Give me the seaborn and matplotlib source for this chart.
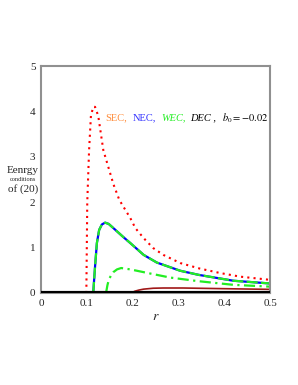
import numpy as np
import pandas as pd
import matplotlib
matplotlib.use("Agg")
import matplotlib.pyplot as plt
import seaborn as sns

# values
sec_r = [0.099, 0.100, 0.101, 0.105, 0.109, 0.114, 0.118, 0.125, 0.136, 0.158, 0.171,
         0.195, 0.206, 0.224, 0.245, 0.267, 0.304, 0.346, 0.391, 0.435, 0.500]
sec_v = [0.0, 1.0, 2.0, 3.15, 3.9, 4.1, 4.1, 3.9, 3.15, 2.4, 2.05,
         1.65, 1.43, 1.21, 0.99, 0.84, 0.66, 0.54, 0.44, 0.36, 0.29]

nec_r = [0.114, 0.118, 0.122, 0.127, 0.133, 0.140, 0.148, 0.158, 0.180, 0.195,
         0.224, 0.253, 0.304, 0.344, 0.420, 0.500]
nec_v = [0.0, 0.58, 1.1, 1.39, 1.51, 1.55, 1.52, 1.43, 1.23, 1.1,
         0.84, 0.67, 0.49, 0.40, 0.27, 0.21]

wec2_r = [0.142, 0.145, 0.148, 0.153, 0.158, 0.166, 0.175, 0.195, 0.238, 0.282, 0.344, 0.420, 0.500]
wec2_v = [0.0, 0.17, 0.29, 0.39, 0.46, 0.52, 0.55, 0.52, 0.43, 0.34, 0.26, 0.18, 0.14]

dec_r = [0.197, 0.205, 0.214, 0.224, 0.245, 0.267, 0.310, 0.400, 0.500]
dec_v = [0.0, 0.04, 0.065, 0.085, 0.105, 0.11, 0.11, 0.095, 0.08]

zero_r = [0.0, 0.5]
zero_v = [0.0, 0.0]

xticks = [0, 0.1, 0.2, 0.3, 0.4, 0.5]
xticklabels = ["0", "0.1", "0.2", "0.3", "0.4", "0.5"]
yticks = [0, 1, 2, 3, 4, 5]

sns.set_style("white")
plt.rcParams['font.family'] = ['Liberation Serif', 'DejaVu Serif']
plt.rcParams['mathtext.fontset'] = 'stix'

fig = plt.figure(figsize=(2.98, 3.85), dpi=100)
ax = fig.add_axes([41 / 298, 1 - 293 / 385, 229 / 298, 227 / 385])

sns.lineplot(x=zero_r, y=zero_v, color='black', lw=3.0, ax=ax, zorder=5)
sns.lineplot(x=dec_r, y=dec_v, color='#a01818', lw=1.2, ax=ax)
sns.lineplot(x=sec_r, y=sec_v, color='red', lw=1.5, ax=ax, linestyle=(0, (1, 2)))
sns.lineplot(x=nec_r, y=nec_v, color='blue', lw=1.6, ax=ax)
sns.lineplot(x=nec_r, y=nec_v, color='#22ee22', lw=1.6, ax=ax, linestyle=(0, (5, 1.5)))
sns.lineplot(x=wec2_r, y=wec2_v, color='#22ee22', lw=1.6, ax=ax, linestyle=(0, (5, 2, 1, 2)))

ax.set_xlim(0, 0.5)
ax.set_ylim(0, 5)
ax.set_xticks(xticks)
ax.set_xticklabels(xticklabels)
ax.set_yticks(yticks)
ax.tick_params(labelsize=8, direction='in', length=3, color='#888888', pad=4)
for s in ax.spines.values():
    s.set_color('#909090')
    s.set_linewidth(1.5)

ax.set_xlabel('$r$', fontsize=10, labelpad=2)
ax.set_ylabel('')

# legend-like text in the plot
ty = 3.85
ax.text(0.140, ty, 'SEC,', color='#ff8c3a', fontsize=7.5, va='center')
ax.text(0.201, ty, 'NEC,', color='#3030ff', fontsize=7.5, va='center')
ax.text(0.262, ty, 'WEC,', color='#22ee22', fontsize=7.5, va='center', style='italic')
ax.text(0.326, ty, 'DEC ,', color='black', fontsize=7.5, va='center', style='italic')
ax.text(0.396, ty, '$b_0 = -0.02$', color='black', fontsize=7.5, va='center')

# y label in three lines
fig.text(0.076, 0.557, 'Eenrgy', fontsize=8, ha='center', va='center')
fig.text(0.076, 0.535, 'conditions', fontsize=4.5, ha='center', va='center')
fig.text(0.076, 0.510, 'of (20)', fontsize=8, ha='center', va='center')

fig.savefig('out.png', dpi=100)
